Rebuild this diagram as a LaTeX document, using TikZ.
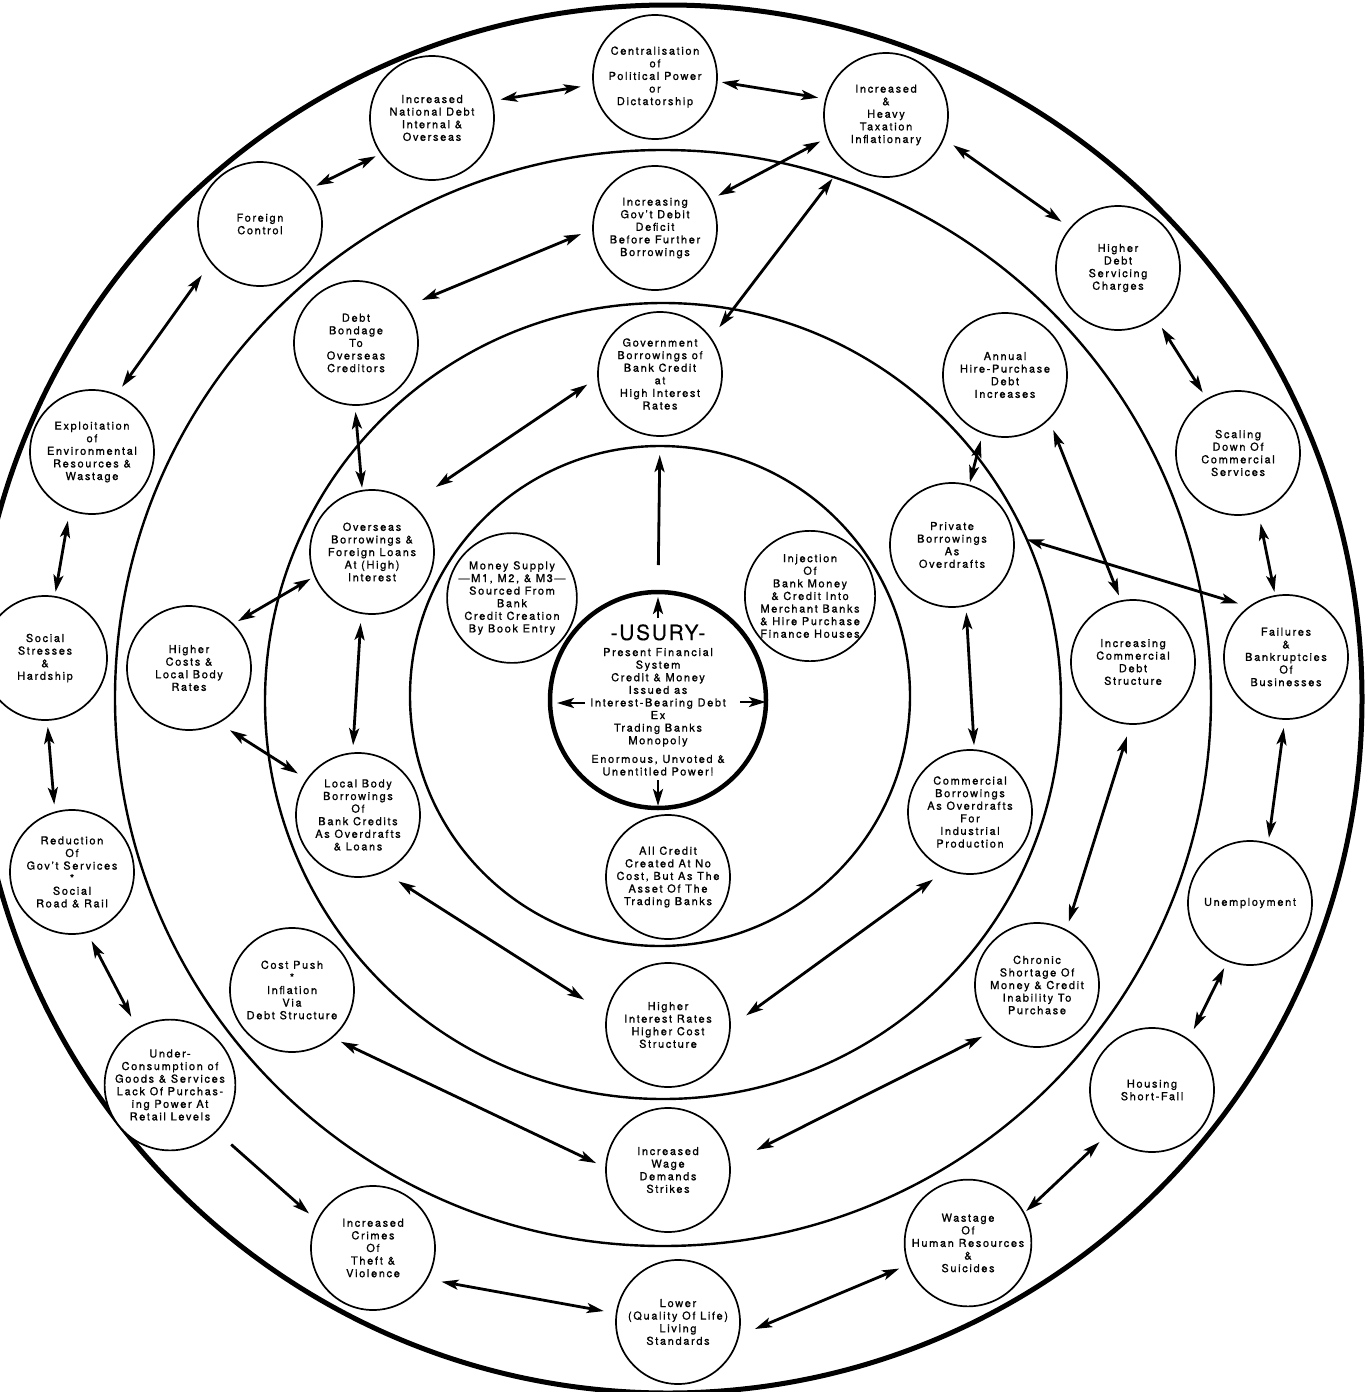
\documentclass[tikz,border=0pt]{standalone}
\usepackage{fontspec}
\setmainfont{TeX Gyre Heros}[LetterSpace=15,FakeBold=1]
\usetikzlibrary{arrows.meta}
\tikzset{
  bub/.style={circle, draw, fill=white, line width=1.7pt, minimum size=124pt, inner sep=0pt, outer sep=0pt, align=center, font=\fontsize{11}{12.6}\selectfont},
  usurys/.style={circle, draw, fill=white, line width=4.5pt, minimum size=216pt, inner sep=0pt, outer sep=0pt, align=center, font=\fontsize{11}{12.6}\selectfont},
  ring/.style={line width=2.4pt},
  bigring/.style={line width=5pt},
  tip/.tip={Stealth[length=17pt,width=10pt,inset=4pt]},
  dbl/.style={line width=2.8pt, tip-tip},
  one/.style={line width=2.8pt, -tip},
}
\begin{document}
\begin{tikzpicture}[x=1pt,y=-1pt]
\useasboundingbox (0,0) rectangle (1369,1392);
\fill[white] (0,0) rectangle (1369,1392);
\clip (0,0) rectangle (1369,1392);
% rings
\draw[bigring] (668,699) circle[radius=694pt];
\draw[ring] (663,698) circle[radius=548pt];
\draw[ring] (663,701) circle[radius=398pt];
\draw[ring] (660,696) circle[radius=250pt];
% outer band
\node[bub] (cent) at (655,77) {Centralisation\\of\\Political Power\\or\\Dictatorship};
\node[bub] (natdebt) at (432,118) {Increased\\National Debt\\Internal \&\\Overseas};
\node[bub] (tax) at (886,115) {Increased\\\&\\Heavy\\Taxation\\Inflationary};
\node[bub] (foreign) at (260,224) {Foreign\\Control};
\node[bub] (servicing) at (1118,268) {Higher\\Debt\\Servicing\\Charges};
\node[bub] (exploit) at (92,452) {Exploitation\\of\\Environmental\\Resources \&\\Wastage};
\node[bub] (scaling) at (1238,453) {Scaling\\Down Of\\Commercial\\Services};
\node[bub] (social) at (45,658) {Social\\Stresses\\\&\\Hardship};
\node[bub] (failures) at (1286,657) {Failures\\\&\\Bankruptcies\\Of\\Businesses};
\node[bub] (reduction) at (72,872) {Reduction\\Of\\Gov't Services\\*\\Social\\Road \& Rail};
\node[bub] (unemp) at (1250,903) {Unemployment};
\node[bub] (undercons) at (170,1085) {Under-\\Consumption of\\Goods \& Services\\Lack Of Purchas-\\ing Power At\\Retail Levels};
\node[bub] (housing) at (1152,1090) {Housing\\Short-Fall};
\node[bub] (crimes) at (373,1248) {Increased\\Crimes\\Of\\Theft \&\\Violence};
\node[bub] (wastage) at (968,1243) {Wastage\\Of\\Human Resources\\\&\\Suicides};
\node[bub] (lower) at (678,1322) {Lower\\(Quality Of Life)\\Living\\Standards};
% middle band
\node[bub] (deficit) at (655,228) {Increasing\\Gov't Debit\\Deficit\\Before Further\\Borrowings};
\node[bub] (bondage) at (356,343) {Debt\\Bondage\\To\\Overseas\\Creditors};
\node[bub] (hire) at (1005,375) {Annual\\Hire-Purchase\\Debt\\Increases};
\node[bub] (costs) at (189,668) {Higher\\Costs \&\\Local Body\\Rates};
\node[bub] (commdebt) at (1133,662) {Increasing\\Commercial\\Debt\\Structure};
\node[bub] (costpush) at (292,990) {Cost Push\\*\\Inflation\\Via\\Debt Structure};
\node[bub] (chronic) at (1037,985) {Chronic\\Shortage Of\\Money \& Credit\\Inability To\\Purchase};
\node[bub] (wage) at (668,1170) {Increased\\Wage\\Demands\\Strikes};
% inner band
\node[bub] (govborrow) at (660,374) {Government\\Borrowings of\\Bank Credit\\at\\High Interest\\Rates};
\node[bub] (overseas) at (372,552) {Overseas\\Borrowings \&\\Foreign Loans\\At (High)\\Interest};
\node[bub] (private) at (952,545) {Private\\Borrowings\\As\\Overdrafts};
\node[bub] (localbody) at (358,815) {Local Body\\Borrowings\\Of\\Bank Credits\\As Overdrafts\\\& Loans};
\node[bub] (commborrow) at (970,812) {Commercial\\Borrowings\\As Overdrafts\\For\\Industrial\\Production};
\node[bub] (hirates) at (668,1025) {Higher\\Interest Rates\\Higher Cost\\Structure};
% core
\node[bub] (money) at (512,598) {Money Supply\\—M1, M2, \& M3—\\Sourced From\\Bank\\Credit Creation\\By Book Entry};
\node[bub] (inject) at (810,596) {Injection\\Of\\Bank Money\\\& Credit Into\\Merchant Banks\\\& Hire Purchase\\Finance Houses};
\node[bub] (allcredit) at (668,877) {All Credit\\Created At No\\Cost, But As The\\Asset Of The\\Trading Banks};
\node[usurys] (usury) at (658,700) {{\fontsize{21}{21}\selectfont\addfontfeatures{LetterSpace=8,FakeBold=0.3}-USURY-}\\[3.4pt]Present Financial\\System\\Credit \& Money\\Issued as\\Interest-Bearing Debt\\Ex\\Trading Banks\\Monopoly\\[6pt]Enormous, Unvoted \&\\Unentitled Power!};
% outer chain
\draw[dbl, shorten <=9pt, shorten >=13pt] (natdebt.16) -- (cent.187);
\draw[dbl, shorten <=5pt, shorten >=8pt] (cent.-4) -- (tax.165);
\draw[dbl, shorten <=6pt, shorten >=6pt] (natdebt.215) -- (foreign.35);
\draw[dbl, shorten <=16pt, shorten >=10pt] (foreign.218) -- (exploit.67);
\draw[dbl, shorten <=11pt, shorten >=5pt] (exploit.249) -- (social.81);
\draw[dbl, shorten <=7pt, shorten >=8pt] (social.-88) -- (reduction.106);
\draw[dbl, shorten <=10pt, shorten >=13pt] (reduction.-76) -- (undercons.120);
\draw[one, shorten <=20pt, shorten >=11pt] (undercons.-45) -- (crimes.154);
\draw[dbl, shorten <=15pt, shorten >=13pt] (crimes.-30) -- (lower.172);
\draw[dbl, shorten <=18pt, shorten >=10pt] (lower.-13) -- (wastage.200);
\draw[dbl, shorten <=3pt, shorten >=12pt] (wastage.28) -- (housing.225);
\draw[dbl, shorten <=12pt, shorten >=8pt] (housing.54) -- (unemp.249);
\draw[dbl, shorten <=6pt, shorten >=9pt] (unemp.73) -- (failures.-91);
\draw[dbl, shorten <=4pt, shorten >=12pt] (failures.100) -- (scaling.-71);
\draw[dbl, shorten <=8pt, shorten >=12pt] (scaling.120) -- (servicing.-53);
\draw[dbl, shorten <=11pt, shorten >=12pt] (servicing.140) -- (tax.-22);
% middle
\draw[dbl, shorten <=9pt, shorten >=9pt] (tax.201) -- (deficit.27);
\draw[dbl, shorten <=21pt, shorten >=14pt] (tax.229) -- (govborrow.35);
\draw[dbl, shorten <=13pt, shorten >=17pt] (deficit.181) -- (bondage.36);
\draw[dbl, shorten <=7pt, shorten >=3pt] (bondage.269) -- (overseas.99);
\draw[dbl, shorten <=13pt, shorten >=30pt] (govborrow.183) -- (overseas.51);
\draw[dbl, shorten <=5pt, shorten >=6pt] (overseas.203) -- (costs.45);
\draw[dbl, shorten <=14pt, shorten >=11pt] (costs.-62) -- (localbody.145);
\draw[dbl, shorten <=10pt, shorten >=8pt] (overseas.260) -- (localbody.95);
\draw[dbl, shorten <=18pt, shorten >=27pt] (localbody.-66) -- (hirates.170);
\draw[dbl, shorten <=10pt, shorten >=11pt] (costpush.-50) -- (wage.178);
\draw[dbl, shorten <=20pt, shorten >=17pt] (hirates.-2) -- (commborrow.248);
\draw[dbl, shorten <=30pt, shorten >=14pt] (wage.6) -- (chronic.227);
\draw[dbl, shorten <=5pt, shorten >=7pt] (commborrow.86) -- (private.-77);
\draw[dbl, shorten <=3pt, shorten >=8pt] (private.74) -- (hire.249);
\draw[dbl, shorten <=12pt, shorten >=6pt] (hire.-45) -- (commdebt.101);
\draw[dbl, shorten <=14pt, shorten >=12pt] (private.9) -- (failures.126);
\draw[dbl, shorten <=13pt, shorten >=9pt] (commdebt.-92) -- (chronic.62);
% from usury
\draw[one, shorten <=27pt, shorten >=19pt] (usury.north) -- (govborrow.south);
\draw[one] (usury.north) ++(0,26) -- ++(0,-21);
\draw[one] (usury.west) ++(35,3) -- ++(-28,0);
\draw[one] (usury.east) ++(-26,2) -- ++(26,0);
\draw[one] (usury.south) ++(0,-28) -- ++(0,26);
\end{tikzpicture}
\end{document}
